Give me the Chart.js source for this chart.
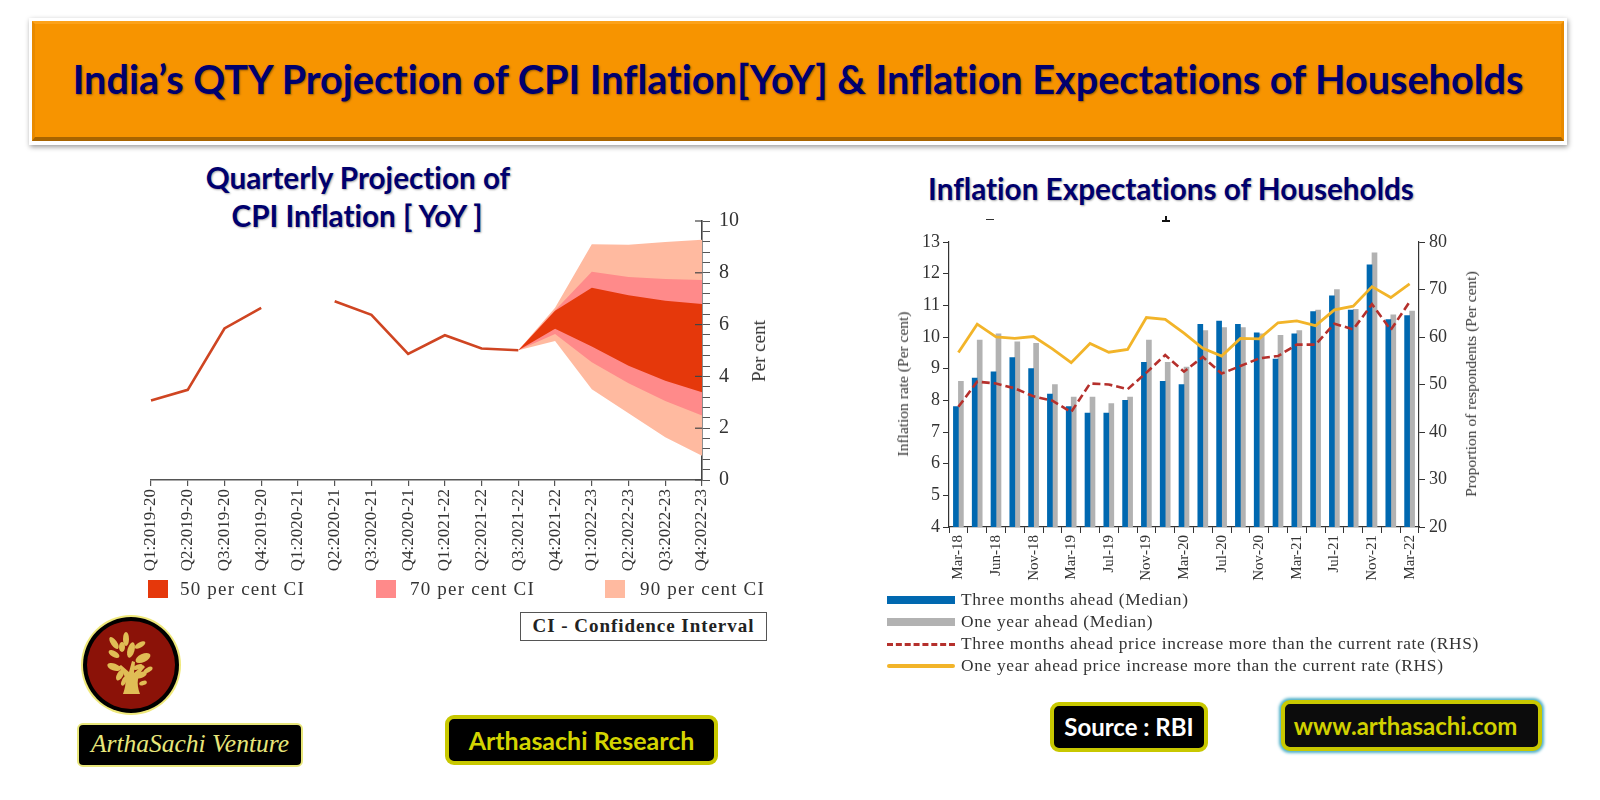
<!DOCTYPE html>
<html>
<head>
<meta charset="utf-8">
<title>India's QTY Projection of CPI Inflation</title>
<script src="https://cdn.jsdelivr.net/npm/chart.js@4/dist/chart.umd.min.js"></script>
<style>
  html, body { margin: 0; padding: 0; background: #fff; }
  body { position: relative; width: 1600px; height: 800px; overflow: hidden; }
  .abs, canvas { position: absolute; }
  .sans { font-family: Lato, sans-serif; font-weight: 700; white-space: nowrap; font-variant-ligatures: none; }
  .serif { font-family: "Liberation Serif", serif; color: #333; white-space: nowrap; }
  .rot { transform: translate(-50%, -50%) rotate(-90deg); }
  #frame { left: 29px; top: 18px; width: 1538px; height: 127px; background: #fff; box-shadow: 1px 2px 5px rgba(0,0,0,.4); }
  #banner { left: 32px; top: 21px; width: 1532px; height: 120px; box-sizing: border-box; background: #f79400;
    border-top: 3px solid #fca21a; border-left: 3px solid #e88a00; border-right: 3px solid #e88a00; border-bottom: 4px solid #a86400;
    color: #00006e; font-size: 39.6px; line-height: 110px; text-align: center; text-shadow: 1px 1px 2px rgba(90,50,0,.6); }
  .head { color: #00006e; font-size: 29.7px; text-align: center; text-shadow: 1px 1px 2px rgba(0,0,0,.35); transform: translateX(-50%); }
  .swatch { width: 20px; height: 18px; top: 580px; }
  .ci { top: 578px; font-size: 19px; letter-spacing: 1.2px; }
  .badge { box-sizing: border-box; background: #000; border: 4px solid #c8c800; border-radius: 9px; text-align: center; }
  .rows { font-size: 17.4px; letter-spacing: .65px; left: 961px; }
  .key { left: 887px; width: 68px; }
</style>
</head>
<body>
<div class="abs" id="frame"></div>
<div class="abs sans" id="banner">India’s QTY Projection of CPI Inflation[YoY] &amp; Inflation Expectations of Households</div>

<div class="abs sans head" style="left:358px;top:160px;">Quarterly Projection of</div>
<div class="abs sans head" style="left:357px;top:198px;">CPI Inflation [ YoY ]</div>
<div class="abs sans head" style="left:1171px;top:171px;">Inflation Expectations of Households</div>

<canvas id="fanChart" width="680" height="400" style="left:100px;top:200px;"></canvas>
<canvas id="householdChart" width="620" height="370" style="left:880px;top:225px;"></canvas>

<div class="abs serif rot" style="left:759px;top:351px;font-size:19px;">Per cent</div>
<div class="abs serif rot" style="left:903px;top:384px;font-size:15.5px;">Inflation rate (Per cent)</div>
<div class="abs serif rot" style="left:1471px;top:384px;font-size:15.5px;">Proportion of respondents (Per cent)</div>

<div class="abs swatch" style="left:148px;background:#e5380b;"></div>
<div class="abs serif ci" style="left:180px;">50 per cent CI</div>
<div class="abs swatch" style="left:376px;background:#ff8a8a;"></div>
<div class="abs serif ci" style="left:410px;">70 per cent CI</div>
<div class="abs swatch" style="left:605px;background:#ffbaa0;"></div>
<div class="abs serif ci" style="left:640px;">90 per cent CI</div>

<div class="abs serif" style="left:520px;top:612px;width:247px;height:29px;box-sizing:border-box;border:1.5px solid #555;font-size:19px;font-weight:700;letter-spacing:.95px;line-height:26px;text-align:center;color:#222;">CI - Confidence Interval</div>

<div class="abs key" style="top:596px;height:8px;background:#0068b0;"></div>
<div class="abs serif rows" style="top:589px;">Three months ahead (Median)</div>
<div class="abs key" style="top:618px;height:8px;background:#b2b2b2;"></div>
<div class="abs serif rows" style="top:611px;">One year ahead (Median)</div>
<div class="abs key" style="top:643px;height:0;border-top:3px dashed #b5302c;"></div>
<div class="abs serif rows" style="top:633px;">Three months ahead price increase more than the current rate (RHS)</div>
<div class="abs key" style="top:664px;height:4px;border-radius:2px;background:#f2b429;"></div>
<div class="abs serif rows" style="top:655px;">One year ahead price increase more than the current rate (RHS)</div>

<!-- clipped leftovers above the household panel -->
<div class="abs" style="left:986px;top:219px;width:8px;height:1px;background:#333;"></div>
<div class="abs" style="left:1162px;top:220px;width:8px;height:2px;background:#111;"></div>
<div class="abs" style="left:1165px;top:216px;width:2px;height:5px;background:#111;"></div>

<!-- logo -->
<svg class="abs" style="left:80px;top:613px;" width="102" height="104" viewBox="0 0 102 104">
  <circle cx="51" cy="52" r="50" fill="#efe87a"/>
  <circle cx="51" cy="52" r="48" fill="#000"/>
  <circle cx="51" cy="52" r="44" fill="#8b1208"/>
  <g fill="#e0bd55">
    <path d="M43 81 C47 70 47 62 38 54 L41 52 L49 59 L52 48 L55 49 L54 60 L63 52 L65 54 C57 62 56 70 60 81 Z"/>
    <ellipse cx="46" cy="26" rx="3" ry="7"/><ellipse cx="34" cy="30" rx="3" ry="7" transform="rotate(-35 34 30)"/>
    <ellipse cx="51" cy="37" rx="3.5" ry="8" transform="rotate(15 51 37)"/><ellipse cx="60" cy="32" rx="2.6" ry="6" transform="rotate(60 60 32)"/>
    <ellipse cx="34" cy="41" rx="3" ry="6" transform="rotate(-60 34 41)"/><ellipse cx="42" cy="34" rx="3" ry="5"/>
    <ellipse cx="63" cy="45" rx="4" ry="8" transform="rotate(65 63 45)"/><ellipse cx="34" cy="54" rx="3.5" ry="7" transform="rotate(-70 34 54)"/>
    <ellipse cx="58" cy="54" rx="2.4" ry="5" transform="rotate(70 58 54)"/><ellipse cx="40" cy="62" rx="3" ry="6" transform="rotate(30 40 62)"/>
    <ellipse cx="61" cy="62" rx="3" ry="6" transform="rotate(70 61 62)"/><ellipse cx="68" cy="57" rx="2.4" ry="5" transform="rotate(60 68 57)"/>
    <ellipse cx="63" cy="70" rx="2.2" ry="4" transform="rotate(70 63 70)"/><ellipse cx="44" cy="68" rx="2.2" ry="5" transform="rotate(25 44 68)"/>
  </g>
</svg>

<div class="abs badge" style="left:77px;top:723px;width:226px;height:44px;border:2px solid #e8e67a;border-radius:6px;font:italic 25.5px/38px 'Liberation Serif',serif;color:#e8e67a;">ArthaSachi Venture</div>
<div class="abs badge sans" style="left:445px;top:715px;width:273px;height:50px;font-size:25px;line-height:42px;color:#d4d400;">Arthasachi Research</div>
<div class="abs badge sans" style="left:1050px;top:702px;width:158px;height:50px;font-size:24px;line-height:42px;color:#fff;">Source : RBI</div>
<div class="abs badge sans" style="left:1281px;top:700px;width:261px;height:51px;padding-right:12px;background:#0c0c0c;font-size:24px;line-height:43px;color:#d0d000;box-shadow:0 0 3px 2px #4fb0c8;">www.arthasachi.com</div>

<script>
// ----- Quarterly projection -----
const quarters = ["Q1:2019-20", "Q2:2019-20", "Q3:2019-20", "Q4:2019-20", "Q1:2020-21", "Q2:2020-21", "Q3:2020-21", "Q4:2020-21",
  "Q1:2021-22", "Q2:2021-22", "Q3:2021-22", "Q4:2021-22", "Q1:2022-23", "Q2:2022-23", "Q3:2022-23", "Q4:2022-23"]
const n = null
const cpiActual = [3.07, 3.48, 5.85, 6.65, n, 6.9, 6.38, 4.87, 5.59, 5.08, 5.01, n, n, n, n, n]
const ci90Upper = [n, n, n, n, n, n, n, n, n, n, 5.01, 6.65, 9.1, 9.08, 9.19, 9.28]
const ci70Upper = [n, n, n, n, n, n, n, n, n, n, 5.01, 6.55, 8.04, 7.84, 7.76, 7.72]
const ci50Upper = [n, n, n, n, n, n, n, n, n, n, 5.01, 6.53, 7.42, 7.13, 6.92, 6.8]
const ci50Lower = [n, n, n, n, n, n, n, n, n, n, 5.01, 5.84, 5.15, 4.41, 3.83, 3.39]
const ci70Lower = [n, n, n, n, n, n, n, n, n, n, 5.01, 5.64, 4.55, 3.74, 3.05, 2.49]
const ci90Lower = [n, n, n, n, n, n, n, n, n, n, 5.01, 5.37, 3.5, 2.58, 1.65, 0.94]

// ----- Household expectations -----
const months = ["Mar-18", "May-18", "Jun-18", "Sep-18", "Nov-18", "Jan-19", "Mar-19", "May-19", "Jul-19", "Sep-19", "Nov-19", "Jan-20", "Mar-20",
  "May-20", "Jul-20", "Sep-20", "Nov-20", "Jan-21", "Mar-21", "May-21", "Jul-21", "Sep-21", "Nov-21", "Jan-22", "Mar-22"]
const threeMonthMedian = [7.8, 8.7, 8.9, 9.35, 9.0, 8.2, 7.8, 7.6, 7.6, 8.0, 9.2, 8.6, 8.5, 10.4, 10.5, 10.4, 10.13, 9.3, 10.1, 10.8, 11.3, 10.85, 12.28, 10.55, 10.68]
const oneYearMedian = [8.6, 9.9, 10.1, 9.85, 9.8, 8.5, 8.1, 8.1, 7.9, 8.1, 9.9, 9.2, 9.05, 10.2, 10.3, 10.3, 10.1, 10.05, 10.2, 10.85, 11.5, 10.87, 12.66, 10.7, 10.82]
const threeMonthShare = [45.3, 50.6, 50.2, 49.2, 47.5, 46.6, 44.2, 50.2, 50.0, 49.0, 52.5, 56.2, 52.7, 55.8, 52.3, 53.9, 55.5, 56.0, 58.4, 58.4, 62.8, 61.6, 66.9, 61.5, 67.4]
const oneYearShare = [56.75, 62.7, 60.0, 59.7, 60.1, 57.5, 54.6, 58.65, 56.8, 57.4, 64.1, 63.7, 60.8, 57.6, 56.0, 59.7, 59.6, 63.0, 63.4, 62.4, 65.7, 66.5, 70.6, 68.3, 71.2]

const SERIF = "'Liberation Serif', serif"
const INK = "#333"

function band(label, data, target, color, order) {
  return { label, data, borderWidth: 0, pointRadius: 0, backgroundColor: color, fill: target, order }
}
function edge(label, data, order) {
  return { label, data, borderWidth: 0, pointRadius: 0, fill: false, order }
}

// long left side of the major ticks on the right hand axis
const majorTicks = {
  id: "majorTicks",
  afterDraw(chart) {
    const y = chart.scales.y, ctx = chart.ctx
    ctx.save()
    ctx.strokeStyle = "#444"
    ctx.lineWidth = 1.2
    for (let v = 0; v <= 10; v += 2) {
      const py = y.getPixelForValue(v)
      ctx.beginPath()
      ctx.moveTo(y.left - 7, py)
      ctx.lineTo(y.left, py)
      ctx.stroke()
    }
    ctx.restore()
  }
}

new Chart(document.getElementById("fanChart"), {
  type: "line",
  data: {
    labels: quarters,
    datasets: [
      { label: "CPI", data: cpiActual, borderColor: "#cf4522", borderWidth: 2.6, pointRadius: 0, tension: 0, order: 0 },
      band("50 per cent CI", ci50Upper, 2, "#e5380b", 1),
      edge("50 lower", ci50Lower, 1),
      band("70 per cent CI", ci70Upper, 4, "#ff8a8a", 2),
      edge("70 lower", ci70Lower, 2),
      band("90 per cent CI", ci90Upper, 6, "#ffbaa0", 3),
      edge("90 lower", ci90Lower, 3)
    ]
  },
  options: {
    responsive: false,
    animation: false,
    layout: { autoPadding: false, padding: { left: 51, top: 21, right: 0, bottom: 0 } },
    plugins: { legend: { display: false }, tooltip: { enabled: false } },
    scales: {
      x: {
        offset: false,
        afterFit: s => { s.height = 120 },
        border: { color: "#555", width: 1.4 },
        grid: { drawOnChartArea: false, color: "#555", tickLength: 6, lineWidth: 1.2 },
        ticks: { autoSkip: false, maxRotation: 90, minRotation: 90, padding: 3, color: INK, font: { family: SERIF, size: 17 } }
      },
      y: {
        position: "right",
        min: 0,
        max: 10,
        afterFit: s => { s.width = 78 },
        afterBuildTicks: s => { s.ticks = Array.from({ length: 26 }, (_, i) => ({ value: i * 0.4 })) },
        border: { color: "#444", width: 1.6 },
        grid: { drawOnChartArea: false, color: "#555", tickLength: 8, lineWidth: 1 },
        ticks: {
          autoSkip: false,
          padding: 9,
          color: INK,
          font: { family: SERIF, size: 20 },
          callback: v => (Math.abs(v / 2 - Math.round(v / 2)) < 1e-6 ? Math.round(v) : "")
        }
      }
    }
  },
  plugins: [majorTicks]
})

new Chart(document.getElementById("householdChart"), {
  type: "bar",
  data: {
    labels: months,
    datasets: [
      { type: "line", label: "One year ahead price increase more than the current rate (RHS)", data: oneYearShare, yAxisID: "y1",
        borderColor: "#f2b429", borderWidth: 2.8, pointRadius: 0, tension: 0, order: 1 },
      { type: "line", label: "Three months ahead price increase more than the current rate (RHS)", data: threeMonthShare, yAxisID: "y1",
        borderColor: "#b5302c", borderWidth: 2.6, borderDash: [8, 4], pointRadius: 0, tension: 0, order: 0 },
      { label: "Three months ahead (Median)", data: threeMonthMedian, yAxisID: "y", backgroundColor: "#0068b0", barThickness: 5, order: 3 },
      { label: "One year ahead (Median)", data: oneYearMedian, yAxisID: "y", backgroundColor: "#b2b2b2", barThickness: 5, order: 3 }
    ]
  },
  options: {
    responsive: false,
    animation: false,
    layout: { autoPadding: false, padding: { left: 0, top: 17, right: 0, bottom: 0 } },
    plugins: { legend: { display: false }, tooltip: { enabled: false } },
    scales: {
      x: {
        afterFit: s => { s.height = 68 },
        border: { color: "#333", width: 1.2 },
        grid: { drawOnChartArea: false, color: "#333", tickLength: 6, lineWidth: 1 },
        ticks: {
          autoSkip: false, maxRotation: 90, minRotation: 90, padding: 2, color: INK, font: { family: SERIF, size: 15 },
          callback(v, i) { return i % 2 === 0 ? this.getLabelForValue(v) : "" }
        }
      },
      y: {
        position: "left",
        min: 4,
        max: 13,
        afterFit: s => { s.width = 69 },
        border: { color: "#333", width: 1.2 },
        grid: { drawOnChartArea: false, color: "#333", tickLength: 6, lineWidth: 1 },
        ticks: { stepSize: 1, padding: 3, color: INK, font: { family: SERIF, size: 18 } }
      },
      y1: {
        position: "right",
        min: 20,
        max: 80,
        afterFit: s => { s.width = 81 },
        border: { color: "#333", width: 1.2 },
        grid: { drawOnChartArea: false, color: "#333", tickLength: 6, lineWidth: 1 },
        ticks: { stepSize: 10, padding: 4, color: INK, font: { family: SERIF, size: 18 } }
      }
    }
  }
})
</script>
</body>
</html>
